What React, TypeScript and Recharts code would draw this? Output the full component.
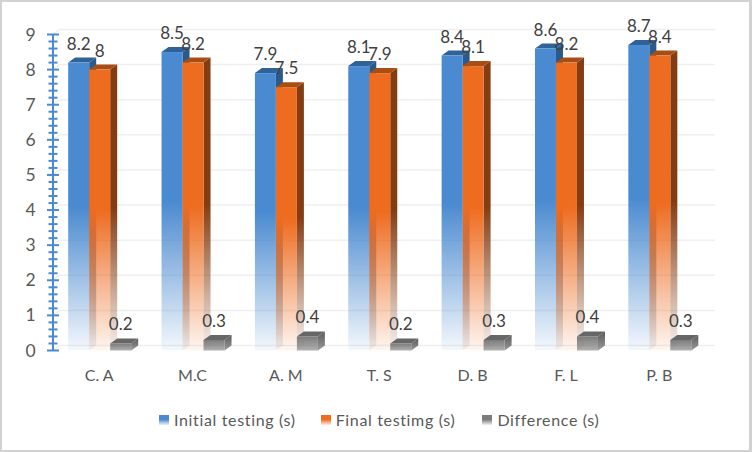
import React from "react";
import {
  BarChart,
  Bar,
  CartesianGrid,
  XAxis,
  YAxis,
  Legend,
  LabelList,
} from "recharts";

const categories = ["C. A", "M.C", "A. M", "T. S", "D. B", "F. L", "P. B"];
const initialTesting = [8.2, 8.5, 7.9, 8.1, 8.4, 8.6, 8.7];
const finalTesting = [8, 8.2, 7.5, 7.9, 8.1, 8.2, 8.4];
const difference = [0.2, 0.3, 0.4, 0.2, 0.3, 0.4, 0.3];
const yTicks = Array.from({ length: 46 }, (_, i) => Math.round(i * 2) / 10);
const gridValues = [0, 1, 2, 3, 4, 5, 6, 7, 8, 9];

const data = categories.map((name, i) => ({
  name,
  initial: initialTesting[i],
  final: finalTesting[i],
  difference: difference[i],
}));

const palette = {
  blue: { id: "blue", front: "#4a8ad0", fadeStart: 0.5, fadeEnd: 0.06, top: "#2f6298", side: "#2b5a8a" },
  orange: { id: "orange", front: "#ee6c20", fadeStart: 0.5, fadeEnd: 0.06, top: "#a84e14", side: "#843c11" },
  gray: { id: "gray", front: "#7c7c7c", fadeStart: 0, fadeEnd: 0.6, top: "#666666", side: "#5a5a5a" },
};

const legendItems = [
  { label: "Initial testing (s)", id: "blue", gap: 0 },
  { label: "Final testimg (s)", id: "orange", gap: 25 },
  { label: "Difference (s)", id: "gray", gap: 27 },
];

const DEPTH_X = 7;
const DEPTH_Y = 5;
const AXIS_X = 53;

// fake 3d column: front face, top and right side
const Column = (props: any) => {
  const { x, y, width, height, colors } = props;
  const right = x + width;
  const bottom = y + height;
  return (
    <g>
      <path
        d={`M${right},${y} L${right + DEPTH_X},${y - DEPTH_Y} L${right + DEPTH_X},${bottom - DEPTH_Y} L${right},${bottom} Z`}
        fill={`url(#side-${colors.id})`}
      />
      <path
        d={`M${x},${y} L${x + DEPTH_X},${y - DEPTH_Y} L${right + DEPTH_X},${y - DEPTH_Y} L${right},${y} Z`}
        fill={colors.top}
      />
      <rect x={x} y={y} width={width} height={height} fill={`url(#front-${colors.id})`} />
    </g>
  );
};

const GridLine = (props: any) => {
  const { x1, x2, y1 } = props;
  return (
    <path
      d={`M${x1},${y1} L${x1 + DEPTH_X},${y1 - DEPTH_Y} L${x2 + 9},${y1 - DEPTH_Y}`}
      fill="none"
      stroke="#efefef"
      strokeWidth={1.5}
    />
  );
};

const AxisTick = (props: any) => {
  const { y, payload } = props;
  const major = Number.isInteger(payload.value);
  const half = major ? 6 : 4.5;
  return (
    <g>
      <line x1={AXIS_X - half} x2={AXIS_X + half} y1={y} y2={y} stroke="#4a8ad0" strokeWidth={2} />
      {major && (
        <text x={30.5} y={y + 6} textAnchor="middle" fontSize={17.5} fill="#595959" fontFamily="Lato">
          {payload.value}
        </text>
      )}
    </g>
  );
};

const ChartLegend = () => (
  <div style={{ display: "flex", marginLeft: 159, fontFamily: "Lato", fontSize: 16, color: "#595959", letterSpacing: 0.65, lineHeight: "20px" }}>
    {legendItems.map((item) => (
      <div key={item.id} style={{ display: "flex", alignItems: "center", marginLeft: item.gap }}>
        <svg width={10} height={10} style={{ marginRight: 5 }}>
          <rect width={10} height={10} fill={`url(#legend-${item.id})`} />
        </svg>
        {item.label}
      </div>
    ))}
  </div>
);

const labelStyle = { fontFamily: "Lato", fontSize: 17, fill: "#404040" };

const App = () => {
  return (
    <div
      style={{
        position: "fixed",
        left: 0,
        top: 0,
        width: 752,
        height: 452,
        background: "#ffffff",
      }}
    >
      <BarChart
        width={752}
        height={452}
        data={data}
        margin={{ top: 34.5, right: 46, left: 0, bottom: 71.5 }}
        barCategoryGap="16.8%"
        barGap={0}
      >
        <defs>
          {Object.values(palette).map((c) => (
            <React.Fragment key={c.id}>
              <linearGradient id={`front-${c.id}`} x1="0" y1="0" x2="0" y2="1">
                <stop offset={c.fadeStart} stopColor={c.front} />
                <stop offset="1" stopColor={c.front} stopOpacity={c.fadeEnd} />
              </linearGradient>
              <linearGradient id={`legend-${c.id}`} x1="0" y1="0" x2="0" y2="1">
                <stop offset="0.45" stopColor={c.front} />
                <stop offset="1" stopColor={c.front} stopOpacity={0.1} />
              </linearGradient>
              <linearGradient id={`side-${c.id}`} x1="0" y1="0" x2="0" y2="1">
                <stop offset={c.fadeStart} stopColor={c.side} />
                <stop offset="1" stopColor={c.side} stopOpacity={c.fadeEnd} />
              </linearGradient>
            </React.Fragment>
          ))}
        </defs>
        <CartesianGrid
          vertical={false}
          horizontalValues={gridValues}
          horizontal={(p: any) => <GridLine key={p.key} {...p} />}
        />
        <XAxis
          dataKey="name"
          axisLine={false}
          tickLine={false}
          height={30}
          tickMargin={13}
          tick={{ fontFamily: "Lato", fontSize: 16, fill: "#595959" }}
        />
        <YAxis
          width={52.5}
          domain={[0, 9]}
          ticks={yTicks}
          interval={0}
          tickLine={false}
          axisLine={false}
          tick={<AxisTick />}
        />
        <Legend
          layout="horizontal"
          verticalAlign="middle"
          align="center"
          wrapperStyle={{ top: 410, left: 0, width: 752 }}
          content={<ChartLegend />}
        />
        <Bar dataKey="initial" isAnimationActive={false} shape={(p: any) => <Column {...p} colors={palette.blue} />}>
          <LabelList dataKey="initial" position="top" offset={13} style={labelStyle} />
        </Bar>
        <Bar dataKey="final" isAnimationActive={false} shape={(p: any) => <Column {...p} colors={palette.orange} />}>
          <LabelList dataKey="final" position="top" offset={13} style={labelStyle} />
        </Bar>
        <Bar dataKey="difference" isAnimationActive={false} shape={(p: any) => <Column {...p} colors={palette.gray} />}>
          <LabelList dataKey="difference" position="top" offset={13} style={labelStyle} />
        </Bar>
      </BarChart>
      <div style={{ position: "absolute", left: AXIS_X - 1.25, top: 34.5, width: 2.5, height: 316, background: "#4a8ad0" }} />
      <div style={{ position: "absolute", inset: 0, borderStyle: "solid", borderColor: "#d2d2d2", borderWidth: "2px 3px 2px 2px", pointerEvents: "none" }} />
    </div>
  );
};

export default App;
